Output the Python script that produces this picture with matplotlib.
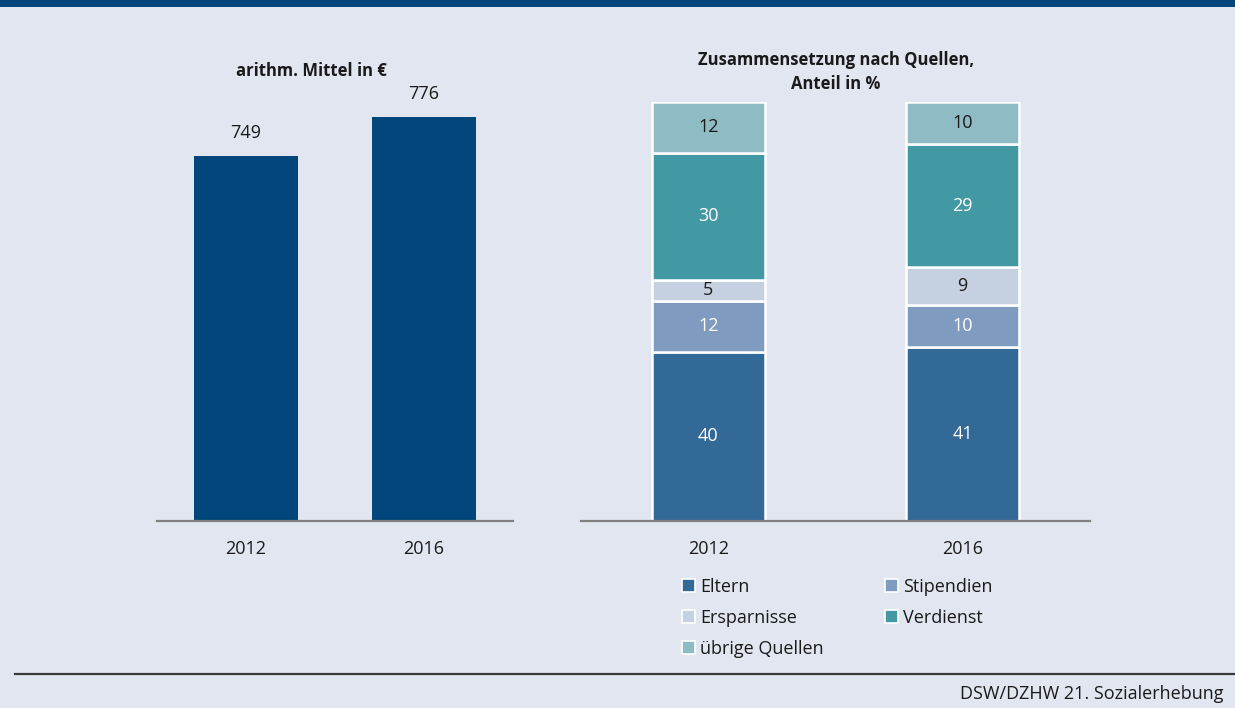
import matplotlib
matplotlib.use("Agg")
import matplotlib.pyplot as plt
from matplotlib.patches import Patch, Rectangle
from matplotlib.lines import Line2D

plt.rcParams['font.family'] = ['Open Sans', 'DejaVu Sans']

# data
years = ['2012', '2016']
mean_eur = [749, 776]

sources = ['Eltern', 'Stipendien', 'Ersparnisse', 'Verdienst', 'übrige Quellen']
shares = {
    'Eltern': [40, 41],
    'Stipendien': [12, 10],
    'Ersparnisse': [5, 9],
    'Verdienst': [30, 29],
    'übrige Quellen': [12, 10],
}
src_colors = ['#336997', '#7f9bbf', '#c5d1e1', '#4399a3', '#8fbcc4']
label_colors = ['white', 'white', '#1a1a1a', 'white', '#1a1a1a']

bg = '#e1e6f0'
navy = '#00467a'
W, H = 1235, 708

fig = plt.figure(figsize=(W / 100, H / 100), dpi=100)
fig.patch.set_facecolor(bg)

# top band
fig.add_artist(Rectangle((0, 1 - 7 / H), 1, 7 / H, transform=fig.transFigure,
                         color=navy, lw=0))

def px_axes(x0, x1, ytop, ybot):
    return fig.add_axes([x0 / W, 1 - ybot / H, (x1 - x0) / W, (ybot - ytop) / H])

# left chart: mean
ax1 = px_axes(157, 513, 81.5, 521)
x = range(len(years))
ax1.bar(x, mean_eur, width=0.585, color=navy)
ax1.set_ylim(500, 800)
ax1.set_xlim(-0.5, 1.5)
for xi, v in zip(x, mean_eur):
    ax1.annotate(str(v), (xi, v), xytext=(0, 10), textcoords='offset points',
                 ha='center', va='bottom', fontsize=13, color='#1a1a1a')
fig.text(311 / W, 1 - 71 / H, 'arithm. Mittel in €', fontsize=12,
         fontweight='bold', color='#1a1a1a', ha='center', va='center')

# right chart: composition
ax2 = px_axes(581, 1090, 102, 521)
bottoms = [0, 0]
for name, col, tcol in zip(sources, src_colors, label_colors):
    vals = shares[name]
    ax2.bar(x, vals, width=0.445, bottom=bottoms, color=col,
            edgecolor='white', linewidth=1.8, label=name)
    for xi, v, b in zip(x, vals, bottoms):
        ax2.text(xi, b + v / 2, str(v), ha='center', va='center',
                 fontsize=13, color=tcol)
    bottoms = [b + v for b, v in zip(bottoms, vals)]
ax2.set_ylim(0, 99)
ax2.set_xlim(-0.5, 1.5)
fig.text(836 / W, 1 - 72 / H, 'Zusammensetzung nach Quellen,\nAnteil in %',
         fontsize=12, fontweight='bold', color='#1a1a1a', linespacing=1.45,
         ha='center', va='center')

for ax in (ax1, ax2):
    ax.set_facecolor('none')
    for s in ('top', 'right', 'left'):
        ax.spines[s].set_visible(False)
    ax.spines['bottom'].set_color('#808080')
    ax.spines['bottom'].set_linewidth(1.6)
    ax.set_yticks([])
    ax.set_xticks(list(x))
    ax.set_xticklabels(years, fontsize=13, color='#1a1a1a')
    ax.tick_params(axis='x', length=0, pad=14)

# legend, row-wise order
order = [0, 2, 4, 1, 3]
handles = [Patch(facecolor=src_colors[i], edgecolor='white', linewidth=1.2)
           for i in order]
fig.legend(handles, [sources[i] for i in order], ncol=2, frameon=False,
           loc='upper left', bbox_to_anchor=(682 / W, 1 - 578 / H),
           fontsize=13, handlelength=0.7, handleheight=0.7,
           handletextpad=0.3, columnspacing=3.4, labelspacing=0.72,
           borderpad=0, borderaxespad=0, labelcolor='#1a1a1a')

# bottom rule and source
fig.add_artist(Line2D([15 / W, 1], [1 - 674 / H] * 2, transform=fig.transFigure,
                      color='#3a3a3a', lw=1.6))
fig.text(1224 / W, 1 - 694 / H, 'DSW/DZHW 21. Sozialerhebung', ha='right',
         va='center', fontsize=13, color='#1a1a1a')

fig.savefig('out.png', dpi=100, facecolor=bg)
